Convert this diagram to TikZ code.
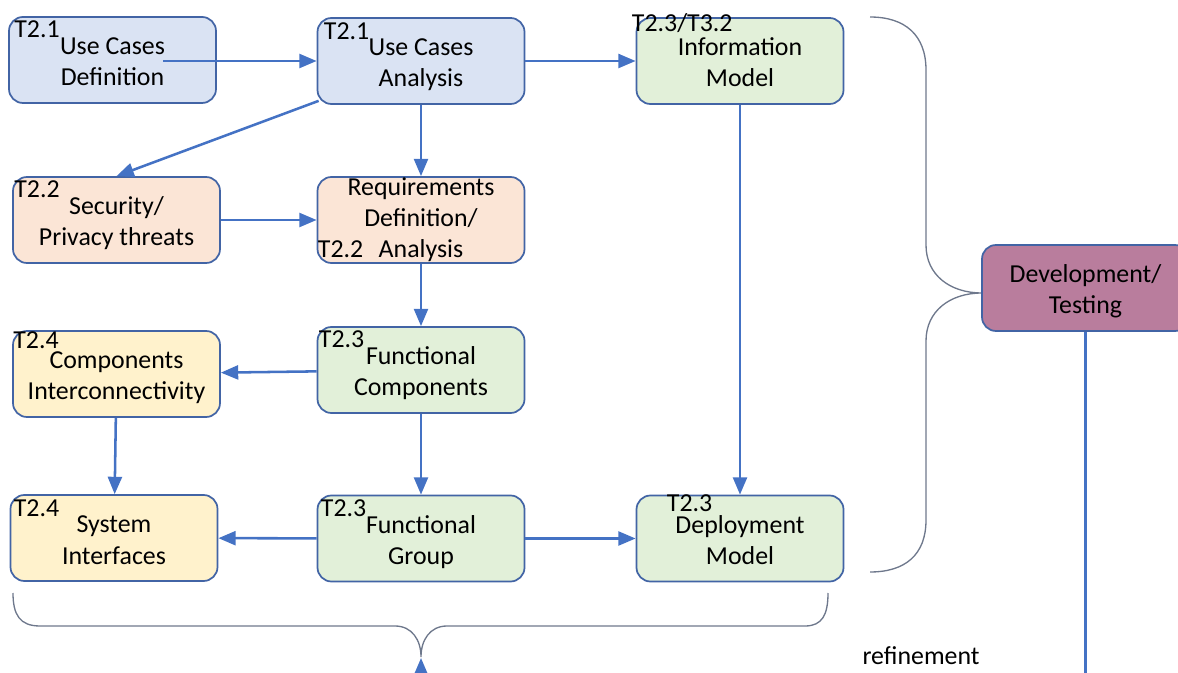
\documentclass[tikz,border=0pt]{standalone}
\usepackage{fontspec}
\setmainfont{Carlito}
\usetikzlibrary{arrows.meta,calc}

\definecolor{flow}{RGB}{68,114,196}
\definecolor{rim}{RGB}{66,100,165}
\definecolor{ucblue}{HTML}{DAE3F3}
\definecolor{reqorange}{HTML}{FBE5D6}
\definecolor{fngreen}{HTML}{E2F0D9}
\definecolor{ifyellow}{HTML}{FFF2CC}
\definecolor{devpurple}{RGB}{185,125,157}
\definecolor{bracegray}{RGB}{110,120,140}

\begin{document}
\begin{tikzpicture}[x=0.75pt,y=-0.75pt,
  txt/.style={font={\fontsize{19.4}{23.3}\selectfont}},
  box/.style={txt, draw=rim, line width=1.3pt, rounded corners=10.5pt,
    minimum width=155.25pt, minimum height=64.5pt, align=center, inner sep=0pt,
    text height=39pt, text depth=0pt},
  threeline/.style={text height=57pt},
  lbl/.style={txt, inner sep=0pt, anchor=base west},
  arr/.style={draw=flow, line width=1.9pt, -{Triangle[length=13pt,width=10.5pt]}},
  brace/.style={draw=bracegray, line width=1pt}]

\useasboundingbox (0,0) rectangle (1178,673);

% grouping braces
\draw[brace] (870,17) .. controls (905,17) and (926,35) .. (926,70) -- (926,245)
  .. controls (926,275) and (950,293) .. (982,293)
  .. controls (950,293) and (926,311) .. (926,341) -- (926,520)
  .. controls (926,555) and (905,572) .. (870,572);
\draw[brace] (13,593) .. controls (13,615) and (20,626) .. (40,626) -- (395,626)
  .. controls (412,626) and (421,640) .. (421,657)
  .. controls (421,640) and (430,626) .. (447,626) -- (805,626)
  .. controls (822,626) and (828,615) .. (828,593);

% work-package boxes
\node[box, fill=ucblue]    (ucd) at (112.5,60)  {Use Cases\\Definition};
\node[box, fill=ucblue]    (uca) at (421,61)    {Use Cases\\Analysis};
\node[box, fill=fngreen]   (im)  at (740,61)    {Information\\Model};
\node[box, fill=reqorange] (spt) at (116.5,220) {Security/\\Privacy threats};
\node[box, threeline, fill=reqorange] (rda) at (421,220) {Requirements\\Definition/\\Analysis};
\node[box, fill=ifyellow]  (ci)  at (116.5,374) {Components\\Interconnectivity};
\node[box, fill=fngreen]   (fc)  at (421,370)   {Functional\\Components};
\node[box, fill=ifyellow]  (si)  at (114,538)   {System\\Interfaces};
\node[box, fill=fngreen]   (fg)  at (421,538.5) {Functional\\Group};
\node[box, fill=fngreen]   (dm)  at (740,538.5) {Deployment\\Model};
\node[box, fill=devpurple] (dt)  at (1085.5,288) {Development/\\Testing};

% task labels
\node[lbl] (ucdt) at ([shift={(6,21)}]ucd.north west) {T2.1};
\node[lbl] (ucat) at ([shift={(7,22)}]uca.north west) {T2.1};
\node[lbl] (imt)  at ([shift={(-4,14)}]im.north west) {T2.3/T3.2};
\node[lbl] (sptt) at ([shift={(2,21)}]spt.north west) {T2.2};
\node[lbl] (rdat) at ([shift={(1,81)}]rda.north west) {T2.2};
\node[lbl] (cit)  at ([shift={(1,18)}]ci.north west) {T2.4};
\node[lbl] (fct)  at ([shift={(2,21)}]fc.north west) {T2.3};
\node[lbl] (sit)  at ([shift={(4,22)}]si.north west) {T2.4};
\node[lbl] (fgt)  at ([shift={(4,22)}]fg.north west) {T2.3};
\node[lbl] (dmt)  at ([shift={(31,17)}]dm.north west) {T2.3};

% flow arrows
\coordinate (ucdout) at (163,61);
\draw[arr] (ucdout) -- (uca);
\draw[arr] (uca) -- (im);
\draw[arr] ([shift={(2,-4)}]uca.south west) -- (spt.north);
\draw[arr] (uca) -- (rda);
\draw[arr] (spt) -- (rda);
\draw[arr] (rda) -- (fc);
\draw[arr] (fc) -- (ci);
\draw[arr] (ci) -- (si);
\draw[arr] (fc) -- (fg);
\draw[arr] (fg) -- (si);
\draw[arr] (fg) -- (dm);
\draw[arr] (im) -- (dm);

% refinement loop back from development
\coordinate (low) at (421,677);
\coordinate (tip) at (421,658);
\draw[arr] (dt.south) |- (low) -- (tip);
\node[txt, inner sep=0pt] (refine) at (921,656) {refinement};

\end{tikzpicture}
\end{document}
